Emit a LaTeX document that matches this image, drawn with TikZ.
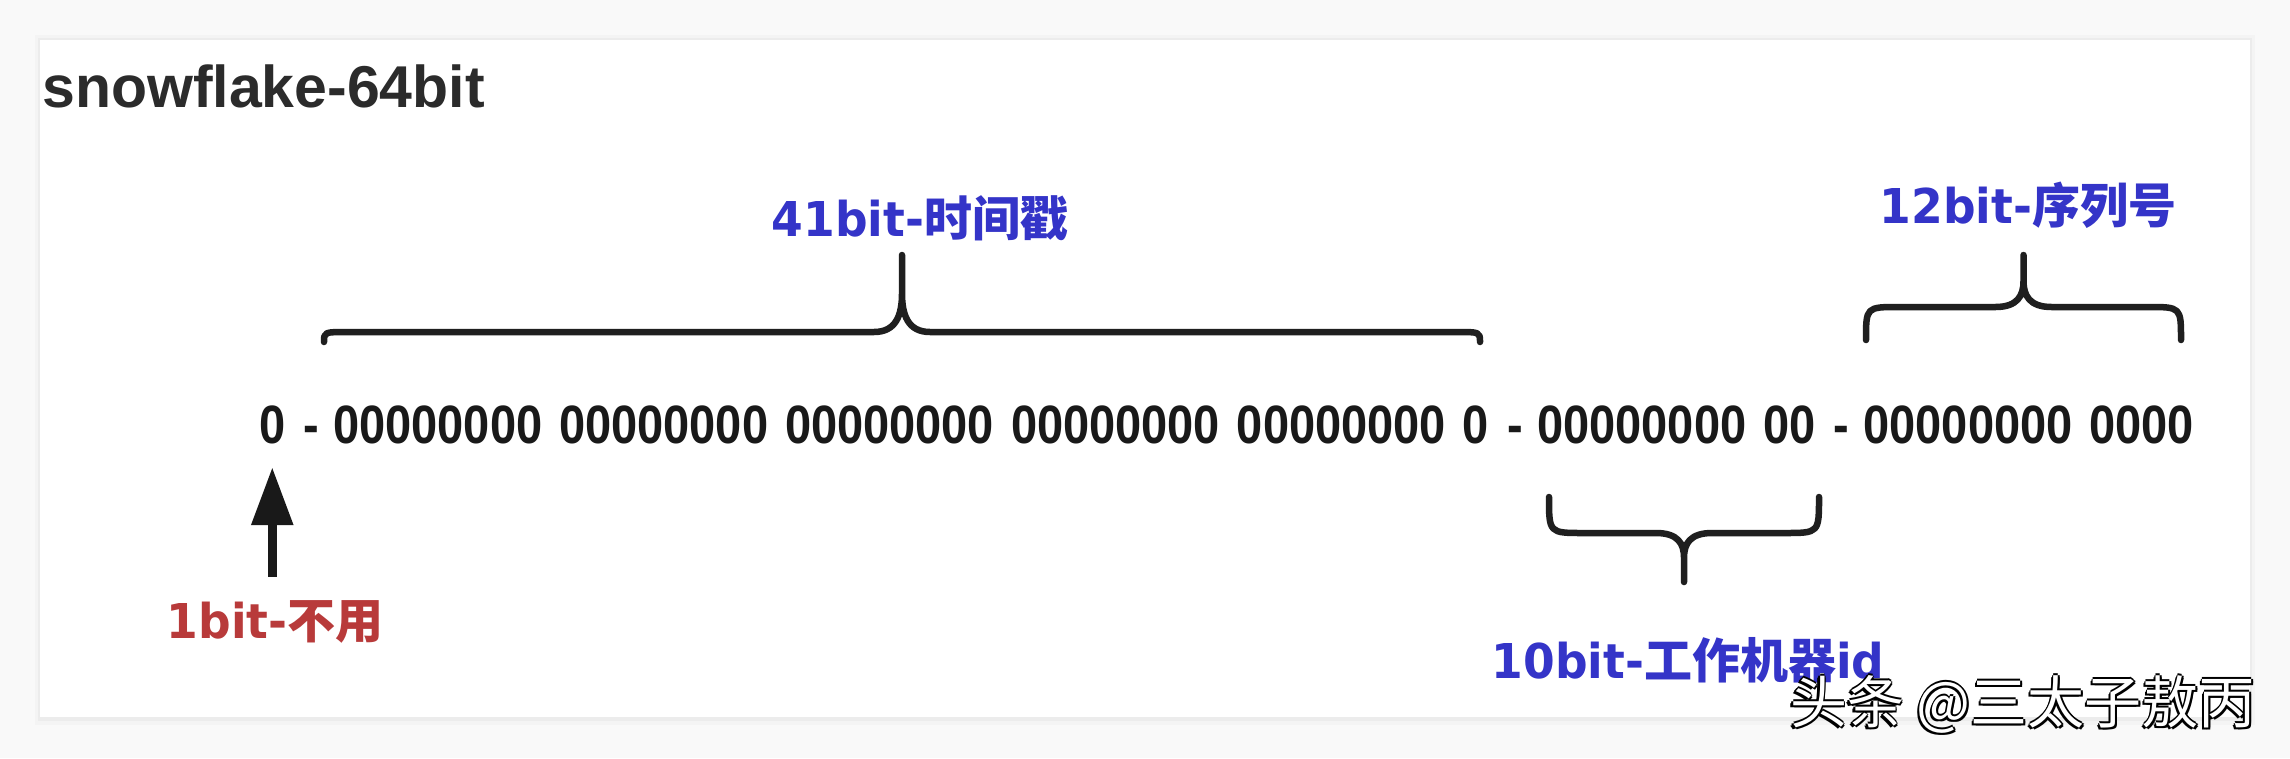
\documentclass[tikz,border=0pt]{standalone}
\usepackage{fontspec}
\setmainfont{Liberation Sans}
\newfontfamily\cjk{Noto Sans CJK SC}
\newfontfamily\labellatin[FakeStretch=0.95]{DejaVu Sans}
\newfontfamily\bitfont[FakeStretch=0.87, WordSpace=1.3]{Liberation Sans}
\usetikzlibrary{positioning,arrows.meta}

\definecolor{fieldblue}{RGB}{52,52,200}
\definecolor{unusedred}{RGB}{184,58,58}
\definecolor{titlegray}{RGB}{43,43,43}

\newcommand{\lat}[1]{{\labellatin #1}}
% curly brace: left x, right x, end y, line y, tip y
\newcommand{\bitbrace}[5]{%
  \pgfmathsetmacro{\bmid}{(#1+#2)/2}%
  \pgfmathsetmacro{\bjoin}{#4+0.5*(#5-#4)}%
  \pgfmathsetmacro{\bctl}{#4+0.22*(#5-#4)}%
  \pgfmathsetmacro{\brad}{20+0.4*abs(#4-#3)}%
  \draw [bracestroke] (#1,#3) .. controls (#1,#4) .. (#1+\brad,#4)
    -- (\bmid-28,#4) .. controls (\bmid-6,#4) and (\bmid,\bctl) .. (\bmid,\bjoin)
    -- (\bmid,#5) -- (\bmid,\bjoin)
    .. controls (\bmid,\bctl) and (\bmid+6,#4) .. (\bmid+28,#4)
    -- (#2-\brad,#4) .. controls (#2,#4) .. (#2,#3);
}

\begin{document}
\begin{tikzpicture}[x=1pt, y=-1pt, >={Triangle[width=40pt,length=58pt]},
   bits/.style={font=\bitfont\bfseries\fontsize{54}{60}\selectfont,
     inner sep=0pt, text height=40pt, text depth=0pt, text=black!90},
   field/.style={font=\cjk\bfseries\fontsize{48}{56}\selectfont, inner sep=0pt,
     text=fieldblue, anchor=base},
   watermark/.style={font=\cjk\fontsize{57}{64}\selectfont, inner sep=0pt, anchor=base west},
   bracestroke/.style={line width=6.5pt, line cap=round, line join=round, black!88}]

  \useasboundingbox (0,0) rectangle (2290,758);
  % page and panel
  \fill [gray!5] (0,0) rectangle (2290,758);
  \fill [gray!9] (35,35) rectangle (2255,725);
  \fill [gray!15] (38,38) rectangle (2252,721);
  \fill [white] (40,40) rectangle (2250,717);

  \node [font=\bfseries\fontsize{59}{66}\selectfont, text=titlegray, inner sep=0pt,
    anchor=base west] (title) at (42,107) {snowflake-64bit};

  % the 64 bits
  \node [bits, anchor=base west] (b0) at (259,443) {0};
  \node [bits, right=18pt of b0] (dash1) {-};
  \node [bits, right=13.5pt of dash1] (ts) {00000000 00000000 00000000 00000000 00000000 0};
  \node [bits, right=18pt of ts] (dash2) {-};
  \node [bits, right=13.5pt of dash2] (wid) {00000000 00};
  \node [bits, right=18pt of wid] (dash3) {-};
  \node [bits, right=13.5pt of dash3] (seq) {00000000 0000};

  % braces
  \bitbrace{324}{1480}{342}{332}{255}
  \bitbrace{1866}{2181}{340}{307}{255}
  \bitbrace{1549}{1819}{497}{533}{582}

  % field labels
  \node [field] (tsLabel) at (920,236) {\lat{41bit-}时间戳};
  \node [field] (seqLabel) at (2028,223) {\lat{12bit-}序列号};
  \node [field] (widLabel) at (1688,678) {\lat{10bit-}工作机器\lat{id}};
  \node [field, text=unusedred, text height=38pt] (unused) at (275,638) {\lat{1bit-}不用};

  \draw [->, line width=9pt, black!90, shorten >=24pt, shorten <=23pt]
    (unused.north -| b0.south) -- (b0.south);

  % watermark
  \foreach \dx/\dy in {-1.5/0, 1.5/0, 0/-1.5, 0/1.5, -1.5/1.5, 1.5/2.5, -2.5/2.5}
    \node [watermark, text=black] at (1790+\dx,723+\dy) {头条 @三太子敖丙};
  \node [watermark, text=white] (credit) at (1790,723) {头条 @三太子敖丙};
\end{tikzpicture}
\end{document}
